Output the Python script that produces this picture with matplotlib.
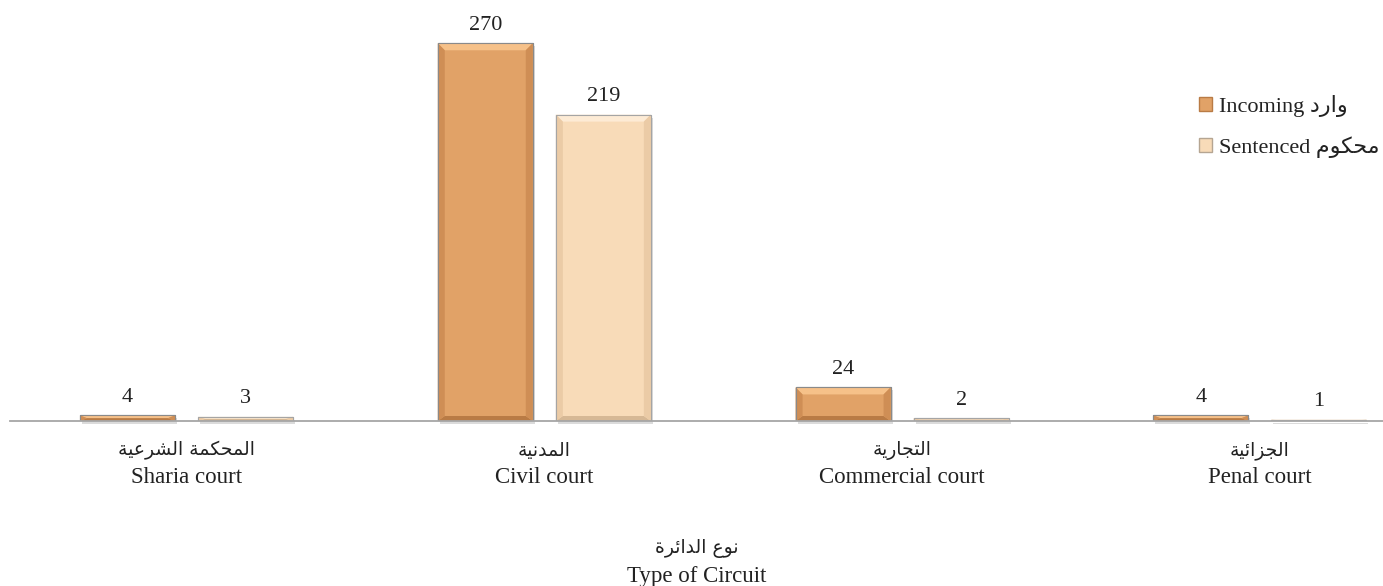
import matplotlib
matplotlib.use("Agg")
import matplotlib.pyplot as plt
from matplotlib.patches import Polygon, Rectangle, Patch
import numpy as np

# data
categories_ar = ["المحكمة الشرعية", "المدنية", "التجارية", "الجزائية"]
categories_en = ["Sharia court", "Civil court", "Commercial court", "Penal court"]
incoming = [4, 270, 24, 4]
sentenced = [3, 219, 2, 1]
series_en = ["Incoming", "Sentenced"]
series_ar = ["وارد", "محكوم"]
xlabel_ar = "نوع الدائرة"
xlabel_en = "Type of Circuit"

FONT = ["Liberation Serif", "DejaVu Sans"]
TXT = "#222222"

# minimal Arabic shaping (matplotlib has no complex text layout)
# letter: (isolated, final, initial, medial) ; None initial => right-joining only
FORMS = {
    "ا": ("\uFE8D", "\uFE8E", None, None),
    "ئ": ("\uFE89", "\uFE8A", "\uFE8B", "\uFE8C"),
    "ة": ("\uFE93", "\uFE94", None, None),
    "ت": ("\uFE95", "\uFE96", "\uFE97", "\uFE98"),
    "ج": ("\uFE9D", "\uFE9E", "\uFE9F", "\uFEA0"),
    "ح": ("\uFEA1", "\uFEA2", "\uFEA3", "\uFEA4"),
    "د": ("\uFEA9", "\uFEAA", None, None),
    "ر": ("\uFEAD", "\uFEAE", None, None),
    "ز": ("\uFEAF", "\uFEB0", None, None),
    "ش": ("\uFEB5", "\uFEB6", "\uFEB7", "\uFEB8"),
    "ع": ("\uFEC9", "\uFECA", "\uFECB", "\uFECC"),
    "ك": ("\uFED9", "\uFEDA", "\uFEDB", "\uFEDC"),
    "ل": ("\uFEDD", "\uFEDE", "\uFEDF", "\uFEE0"),
    "م": ("\uFEE1", "\uFEE2", "\uFEE3", "\uFEE4"),
    "ن": ("\uFEE5", "\uFEE6", "\uFEE7", "\uFEE8"),
    "و": ("\uFEED", "\uFEEE", None, None),
    "ي": ("\uFEF1", "\uFEF2", "\uFEF3", "\uFEF4"),
}


def ar(text):
    out = []
    for i, ch in enumerate(text):
        if ch not in FORMS:
            out.append(ch)
            continue
        prev = text[i - 1] if i > 0 else ""
        nxt = text[i + 1] if i + 1 < len(text) else ""
        joins_prev = prev in FORMS and FORMS[prev][2] is not None
        joins_next = nxt in FORMS and FORMS[ch][2] is not None
        iso, fin, ini, med = FORMS[ch]
        if joins_prev and joins_next:
            out.append(med)
        elif joins_prev:
            out.append(fin)
        elif joins_next:
            out.append(ini)
        else:
            out.append(iso)
    return "".join(out)[::-1]


W, H = 1383, 586
fig = plt.figure(figsize=(W / 100, H / 100), dpi=100)
ax = fig.add_axes([10 / W, (H - 421) / H, (W - 10) / W, 411 / H])

x = np.arange(len(categories_en))
offset = 0.165
width = 0.2655

inc_colors = dict(face="#E1A267", top="#F6C189", side="#CF8E55", bottom="#B97B45", edge="#8A8A8A")
sen_colors = dict(face="#F8DBB8", top="#FDEBD5", side="#EBCBA6", bottom="#D6B895", edge="#A5A5A5")

bars_inc = ax.bar(x - offset, incoming, width, color=inc_colors["face"],
                  edgecolor=inc_colors["edge"], linewidth=0.8, zorder=3)
bars_sen = ax.bar(x + offset, sentenced, width, color=sen_colors["face"],
                  edgecolor=sen_colors["edge"], linewidth=0.8, zorder=3)

ax.set_xlim(-0.4933, 3.344)
ax.set_ylim(0, 411 / 1.399)

px_x = ax.bbox.width / (ax.get_xlim()[1] - ax.get_xlim()[0])
px_y = ax.bbox.height / (ax.get_ylim()[1] - ax.get_ylim()[0])


def bevel(bars, c):
    for r in bars:
        x0, w, h = r.get_x(), r.get_width(), r.get_height()
        bx = 7 / px_x
        by = min(7 / px_y, h / 2)
        bb = min(5 / px_y, h / 2)
        # drop shadow
        ax.add_patch(Rectangle((x0 + 2 / px_x, -3 / px_y), w, h, facecolor="#9A9A9A",
                               alpha=0.35, linewidth=0, zorder=2, clip_on=False))
        ax.add_patch(Polygon([(x0, h), (x0 + w, h), (x0 + w - bx, h - by), (x0 + bx, h - by)],
                             facecolor=c["top"], linewidth=0, zorder=4))
        ax.add_patch(Polygon([(x0, 0), (x0 + w, 0), (x0 + w - bx, bb), (x0 + bx, bb)],
                             facecolor=c["bottom"], linewidth=0, zorder=4))
        ax.add_patch(Polygon([(x0, 0), (x0 + bx, bb), (x0 + bx, h - by), (x0, h)],
                             facecolor=c["side"], linewidth=0, zorder=4))
        ax.add_patch(Polygon([(x0 + w, 0), (x0 + w - bx, bb), (x0 + w - bx, h - by), (x0 + w, h)],
                             facecolor=c["side"], linewidth=0, zorder=4))
        ax.add_patch(Rectangle((x0, 0), w, h, facecolor="none", edgecolor=c["edge"],
                               linewidth=0.8, zorder=5))


bevel(bars_inc, inc_colors)
bevel(bars_sen, sen_colors)

for bars in (bars_inc, bars_sen):
    ax.bar_label(bars, padding=6, fontsize=16, family=FONT, color=TXT)

for s in ["top", "right", "left"]:
    ax.spines[s].set_visible(False)
ax.spines["bottom"].set_color("#A6A6A6")
ax.spines["bottom"].set_linewidth(1.3)
ax.spines["bottom"].set_zorder(6)
ax.set_yticks([])

# English tick labels, Arabic line above them
ax.set_xticks(x)
ax.set_xticklabels(categories_en, fontsize=16.5, family=FONT, color=TXT)
ax.tick_params(axis="x", length=0, pad=33)
for xi, name in zip(x, categories_ar):
    ax.annotate(ar(name), xy=(xi, 0), xycoords=("data", "axes fraction"),
                xytext=(0, -21), textcoords="offset points", ha="center", va="center",
                fontsize=13.5, family="DejaVu Sans", color=TXT)

ax.set_xlabel(xlabel_en, fontsize=16.5, family=FONT, labelpad=56, color=TXT)
ax.annotate(ar(xlabel_ar), xy=(0.5, 0), xycoords="axes fraction",
            xytext=(0, -92), textcoords="offset points", ha="center", va="center",
            fontsize=13.5, family="DejaVu Sans", color=TXT)

handles = [Patch(facecolor=inc_colors["face"], edgecolor=inc_colors["bottom"], linewidth=1),
           Patch(facecolor=sen_colors["face"], edgecolor="#B5A592", linewidth=1)]
labels = [e + " " + ar(a) for e, a in zip(series_en, series_ar)]
leg = fig.legend(handles, labels, loc="upper left", bbox_to_anchor=(1199 / W, 1 - 95 / H),
                 frameon=False, handlelength=0.6, handleheight=0.6, handletextpad=0.3,
                 labelspacing=0.85, borderpad=0, borderaxespad=0,
                 prop=dict(family=FONT, size=16))
for t in leg.get_texts():
    t.set_color(TXT)

fig.savefig("out.png", dpi=100)
